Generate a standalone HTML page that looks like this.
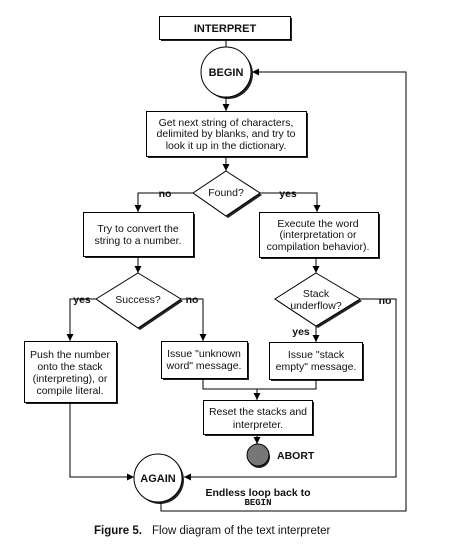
<!DOCTYPE html>
<html><head><style>body{margin:0;background:#fff}svg{display:block}text{font-family:"Liberation Sans",sans-serif;font-size:10.5px;fill:#111}.b{font-weight:bold}</style></head><body>
<svg width="460" height="555" viewBox="0 0 460 555">
<defs><marker id="a" markerWidth="8" markerHeight="8" refX="7" refY="4" orient="auto" markerUnits="userSpaceOnUse"><path d="M0,0.5 L7,4 L0,7.5z" fill="#000"/></marker></defs>
<g fill="#222">
<rect x="161" y="18" width="131" height="23"/>
<circle cx="228" cy="74" r="25"/>
<rect x="148" y="113" width="160" height="45"/>
<path d="M228,173 L262,195 L228,218 L195,195z"/>
<rect x="85" y="214" width="110" height="44"/>
<rect x="261" y="214" width="119" height="45"/>
<path d="M140,275 L183,301 L140,330 L98,301z"/>
<path d="M318,275 L362,301 L318,328 L277,301z"/>
<rect x="26" y="343" width="92" height="61"/>
<rect x="163" y="343" width="86" height="37"/>
<rect x="271" y="344" width="93" height="37"/>
<rect x="205" y="402" width="109" height="34"/>
<circle cx="160" cy="480" r="24"/>
<circle cx="259" cy="457" r="11"/>
</g>
<g fill="#fff" stroke="#000" stroke-width="1">
<rect x="159.5" y="16.5" width="131" height="23"/>
<circle cx="226" cy="72" r="25"/>
<rect x="146.5" y="111.5" width="160" height="45"/>
<path d="M226,171 L260,193 L226,216 L193,193z"/>
<rect x="83.5" y="212.5" width="110" height="44"/>
<rect x="259.5" y="212.5" width="119" height="45"/>
<path d="M138,273 L181,299 L138,328 L96,299z"/>
<path d="M316,273 L360,299 L316,326 L275,299z"/>
<rect x="24.5" y="341.5" width="92" height="61"/>
<rect x="161.5" y="341.5" width="86" height="37"/>
<rect x="269.5" y="342.5" width="93" height="37"/>
<rect x="203.5" y="400.5" width="109" height="34"/>
<circle cx="158" cy="478" r="24"/>
</g>
<circle cx="258" cy="455" r="11" fill="#777" stroke="#000"/>
<g fill="none" stroke="#000" stroke-width="1">
<line x1="226" y1="40" x2="226" y2="47"/>
<line x1="226" y1="97" x2="226" y2="111" marker-end="url(#a)"/>
<line x1="226" y1="157" x2="226" y2="171" marker-end="url(#a)"/>
<path d="M193,193 H138 V212" marker-end="url(#a)"/>
<path d="M260,193 H317 V212" marker-end="url(#a)"/>
<line x1="138" y1="257" x2="138" y2="273" marker-end="url(#a)"/>
<line x1="316" y1="258" x2="316" y2="273" marker-end="url(#a)"/>
<path d="M96,299 H70 V341" marker-end="url(#a)"/>
<path d="M181,299 H203 V341" marker-end="url(#a)"/>
<line x1="316" y1="326" x2="316" y2="342" marker-end="url(#a)"/>
<path d="M360,299 H396 V477 H184" marker-end="url(#a)"/>
<path d="M203,379 V389 H316 V380"/>
<line x1="257" y1="389" x2="257" y2="400" marker-end="url(#a)"/>
<line x1="257" y1="435" x2="257" y2="444" marker-end="url(#a)"/>
<path d="M70,403 V477 H134" marker-end="url(#a)"/>
<path d="M161,502 V511 H406 V72 H252" marker-end="url(#a)"/>
</g>
<g text-anchor="middle">
<text x="225" y="32" class="b" style="font-size:11px">INTERPRET</text>
<text x="226" y="76" class="b" style="font-size:11px">BEGIN</text>
<text x="226" y="126">Get next string of characters,</text>
<text x="226" y="137">delimited by blanks, and try to</text>
<text x="226" y="149">look it up in the dictionary.</text>
<text x="226" y="196">Found?</text>
<text x="165" y="197" class="b">no</text>
<text x="288" y="197" class="b">yes</text>
<text x="138" y="232">Try to convert the</text>
<text x="138" y="244">string to a number.</text>
<text x="318" y="227">Execute the word</text>
<text x="318" y="238">(interpretation or</text>
<text x="318" y="250">compilation behavior).</text>
<text x="138" y="303">Success?</text>
<text x="82" y="303" class="b">yes</text>
<text x="192" y="303" class="b">no</text>
<text x="316" y="297">Stack</text>
<text x="316" y="309">underflow?</text>
<text x="385" y="304" class="b">no</text>
<text x="301" y="335" class="b">yes</text>
<text x="70" y="358">Push the number</text>
<text x="70" y="370">onto the stack</text>
<text x="70" y="382">(interpreting), or</text>
<text x="70" y="394">compile literal.</text>
<text x="204" y="357">Issue "unknown</text>
<text x="204" y="369">word" message.</text>
<text x="316" y="358">Issue "stack</text>
<text x="316" y="370">empty" message.</text>
<text x="258" y="415">Reset the stacks and</text>
<text x="258" y="428">interpreter.</text>
<text x="158" y="482" class="b" style="font-size:11px">AGAIN</text>
<text x="258" y="496" class="b">Endless loop back to</text>
<text x="258" y="505" class="b" style="font-family:'Liberation Mono',monospace;font-size:9px">BEGIN</text>
</g>
<text x="277" y="459" class="b">ABORT</text>
<text x="94" y="534" class="b" style="font-size:11.5px">Figure 5.</text>
<text x="152" y="534" style="font-size:11.5px">Flow diagram of the text interpreter</text>
</svg>
</body></html>
